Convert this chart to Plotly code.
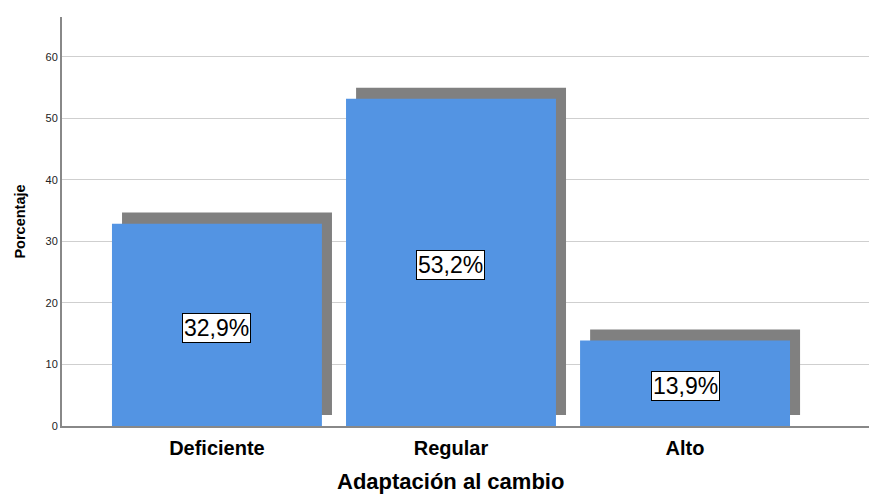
import plotly.graph_objects as go

categories = ["Deficiente", "Regular", "Alto"]
values = [32.9, 53.2, 13.9]
labels = ["32,9%", "53,2%", "13,9%"]
y_ticks = [0, 10, 20, 30, 40, 50, 60]

BLUE = "#5394E3"
SHADOW = "#808080"
BAR_W = 0.897
SH_DX = 0.043
SH_DY = 1.8

xs = list(range(len(categories)))

fig = go.Figure()
fig.add_trace(go.Bar(
    x=xs, y=values, base=[SH_DY] * len(values), width=BAR_W,
    offset=-BAR_W / 2 + SH_DX, marker=dict(color=SHADOW, line=dict(width=0)),
    hoverinfo="skip", showlegend=False))
fig.add_trace(go.Bar(
    x=xs, y=values, width=BAR_W, offset=-BAR_W / 2,
    marker=dict(color=BLUE, line=dict(width=0)), showlegend=False))

for x, v, t in zip(xs, values, labels):
    fig.add_annotation(x=x, y=v / 2, text=t, showarrow=False, yshift=-3,
                       font=dict(family="Liberation Sans, Arial", size=23, color="black"),
                       bgcolor="white", bordercolor="black", borderwidth=1, borderpad=1)

# x-axis title centred over the categories, as in the reference
fig.add_annotation(x=1, xref="x", y=0, yref="paper", yshift=-55, yanchor="middle",
                   text="<b>Adaptación al cambio</b>", showarrow=False,
                   font=dict(family="Liberation Sans, Arial", size=22, color="black"))

fig.update_layout(
    width=869, height=496, barmode="overlay",
    margin=dict(l=62, r=0, t=17, b=70),
    plot_bgcolor="white", paper_bgcolor="white",
    font=dict(family="Liberation Sans, Arial", color="black"),
    xaxis=dict(range=[-0.662, 2.786], tickvals=xs, ticktext=categories,
               tickfont=dict(size=20, family="Liberation Sans, Arial", weight="bold"),
               ticklabelstandoff=3,
               showgrid=False, showline=True, linecolor="#888888", linewidth=2,
               ticks="", zeroline=False),
    yaxis=dict(range=[0, 66.5], tickvals=y_ticks, tickfont=dict(size=11, color="#222222"),
               showgrid=True, gridcolor="#CFCFCF", gridwidth=1,
               showline=True, linecolor="#888888", linewidth=2, ticks="", zeroline=False,
               title=dict(text="<b>Porcentaje</b>", font=dict(size=14.5), standoff=16)),
)

fig.write_html("out.html")
